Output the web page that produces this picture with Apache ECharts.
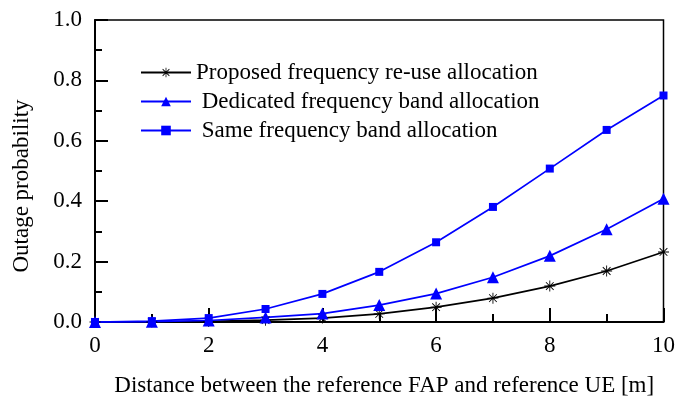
<!DOCTYPE html>
<html>
<head>
<meta charset="utf-8">
<script src="https://cdn.jsdelivr.net/npm/echarts@6/dist/echarts.min.js"></script>
<style>html,body{margin:0;padding:0;background:#fff}#c{width:678px;height:402px}</style>
</head>
<body>
<div id="c"></div>
<script>
var distances = [0, 1, 2, 3, 4, 5, 6, 7, 8, 9, 10];
var proposedReuse = [0, 0, 0.002, 0.006, 0.013, 0.027, 0.049, 0.079, 0.119, 0.169, 0.232];
var dedicatedBand = [0, 0.001, 0.005, 0.015, 0.028, 0.056, 0.094, 0.148, 0.219, 0.307, 0.408];
var sameBand = [0, 0.003, 0.013, 0.043, 0.093, 0.166, 0.264, 0.381, 0.508, 0.636, 0.75];
var seriesNames = ['Proposed frequency re-use allocation', ' Dedicated frequency band allocation', ' Same frequency band allocation'];

var starPath = 'path://M9.2 0 L10.8 0 L10.8 20 L9.2 20 Z M0 9.2 L20 9.2 L20 10.8 L0 10.8 Z M3.57 2.43 L17.57 16.43 L16.43 17.57 L2.43 3.57 Z M17.57 3.57 L3.57 17.57 L2.43 16.43 L16.43 2.43 Z';

function pairs(vals) { return distances.map(function (d, i) { return [d, vals[i]]; }); }

var font = 'Liberation Serif';
var chart = echarts.init(document.getElementById('c'), null, { renderer: 'canvas' });
chart.setOption({
  animation: false,
  backgroundColor: '#fff',
  grid: { left: 95, right: 14, top: 20, bottom: 80, show: true, borderColor: '#000', borderWidth: 1.5, backgroundColor: 'transparent' },
  legend: {
    left: 140, top: 61, padding: 0, orient: 'vertical', itemWidth: 50, itemHeight: 12, itemGap: 6,
    textStyle: { fontFamily: font, fontSize: 23, color: '#000', lineHeight: 22 },
    data: seriesNames
  },
  xAxis: {
    type: 'value', min: 0, max: 10, interval: 2,
    name: 'Distance between the reference FAP and reference UE [m]',
    nameLocation: 'middle', nameGap: 52,
    nameTextStyle: { fontFamily: font, fontSize: 23, color: '#000', padding: [0, 0, 0, 10] },
    axisLine: { lineStyle: { color: '#000', width: 2 } },
    axisTick: { inside: true, length: 14, lineStyle: { color: '#000', width: 2 } },
    minorTick: { show: true, splitNumber: 2, length: 8, lineStyle: { color: '#000', width: 2 } },
    axisLabel: { fontFamily: font, fontSize: 23, color: '#000', margin: 12 },
    splitLine: { show: false }
  },
  yAxis: {
    type: 'value', min: 0, max: 1, interval: 0.2,
    name: 'Outage probability', nameLocation: 'middle', nameGap: 62,
    nameTextStyle: { fontFamily: font, fontSize: 23, color: '#000', padding: [0, 30, 0, 0] },
    axisLine: { show: true, lineStyle: { color: '#000', width: 2 } },
    axisTick: { show: true, inside: true, length: 13, lineStyle: { color: '#000', width: 2 } },
    minorTick: { show: true, splitNumber: 2, length: 7, lineStyle: { color: '#000', width: 2 } },
    axisLabel: { fontFamily: font, fontSize: 23, color: '#000', margin: 13, formatter: function (v) { return v.toFixed(1); } },
    splitLine: { show: false }
  },
  series: [
    { name: seriesNames[0], type: 'line', data: pairs(proposedReuse), symbol: starPath, symbolSize: 11, showAllSymbol: true, clip: false,
      lineStyle: { color: '#000', width: 1.7 }, itemStyle: { color: '#000' } },
    { name: seriesNames[1], type: 'line', data: pairs(dedicatedBand), symbol: 'triangle', symbolSize: 12, showAllSymbol: true, clip: false,
      lineStyle: { color: '#0000ff', width: 1.7 }, itemStyle: { color: '#0000ff' } },
    { name: seriesNames[2], type: 'line', data: pairs(sameBand), symbol: 'rect', symbolSize: 8, showAllSymbol: true, clip: false,
      lineStyle: { color: '#0000ff', width: 1.7 }, itemStyle: { color: '#0000ff' } }
  ]
});
</script>
</body>
</html>
